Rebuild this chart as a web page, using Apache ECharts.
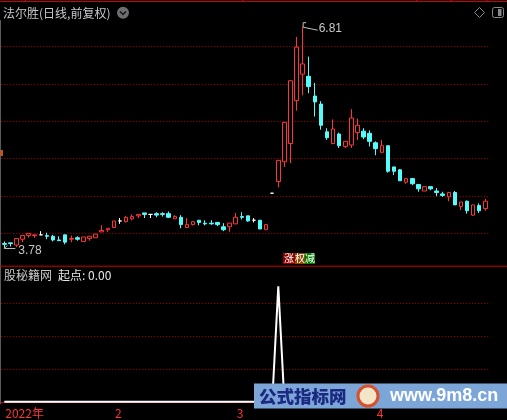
<!DOCTYPE html>
<html>
<head>
<meta charset="utf-8">
<title>法尔胜 日线</title>
<script src="https://cdn.jsdelivr.net/npm/echarts@6/dist/echarts.min.js"></script>
<style>
  html, body { margin: 0; padding: 0; background: #000; }
  #main { width: 507px; height: 420px; }
</style>
</head>
<body>
<div id="main"></div>
<script>
// 日K (开, 收, 低, 高)
const opens = [3.84, 3.85, 3.82, 3.90, 3.95, 3.95, 3.96, 3.95, 3.94, 3.89,
  3.96, 3.90, 3.92, 3.87, 3.91, 3.92, 4.00, 4.03, 4.06, 4.15,
  4.14, 4.18, 4.22, 4.26, 4.24, 4.25, 4.25, 4.25, 4.18, 4.20,
  4.06, 4.10, 4.16, 4.12, 4.12, 4.13, 4.07, 4.07, 4.11, 4.21,
  4.22, 4.16, 4.16, 4.03, 4.53, 4.69, 4.96, 5.21, 5.80, 6.16,
  6.13, 5.86, 5.75, 5.37, 5.21, 5.34, 5.17, 5.19, 5.36, 5.38,
  5.35, 5.22, 5.09, 5.18, 4.89, 4.85, 4.68, 4.73, 4.65, 4.56,
  4.62, 4.56, 4.52, 4.48, 4.54, 4.35, 4.42, 4.23, 4.36, 4.32];
const closes = [3.83, 3.84, 3.91, 3.95, 3.98, 3.96, 3.96, 3.94, 3.89, 3.88,
  3.86, 3.91, 3.90, 3.93, 3.94, 3.97, 4.02, 4.05, 4.15, 4.15,
  4.20, 4.21, 4.24, 4.24, 4.24, 4.23, 4.24, 4.20, 4.21, 4.10,
  4.10, 4.14, 4.13, 4.11, 4.11, 4.10, 4.03, 4.12, 4.20, 4.20,
  4.15, 4.16, 4.04, 4.10, 4.53, 4.98, 5.50, 6.07, 6.53, 6.30,
  5.99, 5.78, 5.46, 5.29, 5.41, 5.18, 5.24, 5.56, 5.46, 5.30,
  5.24, 5.14, 5.18, 4.83, 4.83, 4.70, 4.73, 4.66, 4.59, 4.62,
  4.59, 4.54, 4.50, 4.54, 4.37, 4.41, 4.29, 4.37, 4.29, 4.42];
const lows = [3.78, 3.80, 3.79, 3.86, 3.92, 3.92, 3.96, 3.90, 3.87, 3.88,
  3.83, 3.86, 3.88, 3.87, 3.88, 3.92, 4.00, 4.00, 4.06, 4.11,
  4.13, 4.16, 4.19, 4.19, 4.19, 4.20, 4.21, 4.19, 4.18, 4.05,
  4.06, 4.09, 4.09, 4.09, 4.10, 4.08, 4.01, 4.00, 4.11, 4.17,
  4.14, 4.13, 4.04, 4.03, 4.53, 4.61, 4.89, 4.94, 5.66, 5.87,
  5.90, 5.58, 5.40, 5.26, 5.20, 5.15, 5.15, 5.15, 5.26, 5.27,
  5.17, 5.05, 5.08, 4.81, 4.78, 4.70, 4.66, 4.64, 4.55, 4.56,
  4.57, 4.49, 4.48, 4.42, 4.37, 4.30, 4.25, 4.22, 4.26, 4.29];
const highs = [3.87, 3.85, 3.91, 3.95, 3.98, 3.96, 4.01, 3.99, 3.96, 3.94,
  3.96, 3.95, 3.94, 3.93, 3.94, 3.97, 4.09, 4.05, 4.15, 4.19,
  4.22, 4.24, 4.24, 4.26, 4.24, 4.27, 4.27, 4.28, 4.23, 4.23,
  4.19, 4.15, 4.16, 4.16, 4.16, 4.13, 4.12, 4.12, 4.26, 4.27,
  4.22, 4.19, 4.16, 4.10, 4.53, 4.98, 5.50, 6.07, 6.67, 6.81,
  6.40, 6.04, 5.79, 5.42, 5.54, 5.36, 5.24, 5.68, 5.55, 5.42,
  5.39, 5.24, 5.26, 5.18, 4.89, 4.86, 4.73, 4.74, 4.65, 4.62,
  4.62, 4.60, 4.55, 4.54, 4.56, 4.41, 4.43, 4.37, 4.39, 4.45];

// 起点 指标
const signal = [0, 0, 0, 0, 0, 0, 0, 0, 0, 0,
  0, 0, 0, 0, 0, 0, 0, 0, 0, 0,
  0, 0, 0, 0, 0, 0, 0, 0, 0, 0,
  0, 0, 0, 0, 0, 0, 0, 0, 0, 0,
  0, 0, 0, 0, 0, 3.5, 0, 0, 0, 0,
  0, 0, 0, 0, 0, 0, 0, 0, 0, 0,
  0, 0, 0, 0, 0, 0, 0, 0, 0, 0,
  0, 0, 0, 0, 0, 0, 0, 0, 0, 0];

// 月份刻度
const monthIdx = [0, 18, 38, 61];
const monthLabels = ['2022年', '2', '3', '4'];
const weekIdx = [23, 28, 33, 43, 48, 53, 58, 66, 71, 76];

const highIdx = 49, lowIdx = 0;

const RED = '#ff3434';
const CYAN = '#54fcfc';
const LINE_RED = '#d00000';
const CJK = '"Noto Sans CJK SC", sans-serif';

const days = opens.map((_, i) => String(i + 1));
const kData = opens.map((o, i) => {
  const v = [o, closes[i], lows[i], highs[i]];
  if (o === closes[i]) {
    return { value: v, itemStyle: { color: '#fff', borderColor: '#fff', color0: '#fff', borderColor0: '#fff' } };
  }
  return v;
});

const myChart = echarts.init(document.getElementById('main'));

const dotted = { color: '#b00000', width: 1, type: [1, 2] };

const option = {
  backgroundColor: '#000',
  animation: false,
  grid: [
    { left: 1.26, right: 18.64, top: 46.7, bottom: 186.7 },
    { left: 1.26, right: 18.64, top: 302.8, bottom: 18.2 }
  ],
  xAxis: [
    { gridIndex: 0, type: 'category', data: days, boundaryGap: true, show: false },
    {
      gridIndex: 1, type: 'category', data: days, boundaryGap: true, offset: 2.7,
      axisLine: { lineStyle: { color: LINE_RED, width: 1 } },
      axisTick: {
        alignWithLabel: true, length: 16,
        interval: (i) => i > 0 && monthIdx.includes(i),
        lineStyle: { color: LINE_RED }
      },
      axisLabel: {
        interval: (i) => monthIdx.includes(i),
        formatter: (v, i) => monthLabels[monthIdx.indexOf(i)] || '',
        align: 'left', verticalAlign: 'top', margin: 3,
        color: RED, fontSize: 12, fontFamily: CJK, padding: [0, 0, 0, 1]
      },
      splitLine: { show: false }
    },
    {
      gridIndex: 1, type: 'category', data: days, boundaryGap: true, offset: 2.7,
      axisLine: { show: false },
      axisLabel: { show: false },
      axisTick: {
        alignWithLabel: true, length: 3,
        interval: (i) => weekIdx.includes(i),
        lineStyle: { color: LINE_RED }
      },
      splitLine: { show: false }
    }
  ],
  yAxis: [
    {
      gridIndex: 0, type: 'value', min: 3.981, max: 6.536, interval: 0.511, scale: true,
      axisLine: { show: false }, axisTick: { show: false }, axisLabel: { show: false },
      splitLine: { lineStyle: dotted }
    },
    {
      gridIndex: 1, type: 'value', min: 0, max: 3, interval: 1,
      axisLine: { show: false }, axisTick: { show: false }, axisLabel: { show: false },
      splitLine: { lineStyle: dotted }
    }
  ],
  series: [
    {
      name: '日K', type: 'candlestick', xAxisIndex: 0, yAxisIndex: 0,
      data: kData, barWidth: 4, clip: false,
      itemStyle: {
        color: '#000', color0: CYAN,
        borderColor: RED, borderColor0: CYAN,
        borderColorDoji: '#fff', borderWidth: 1
      }
    },
    {
      name: '起点', type: 'line', xAxisIndex: 1, yAxisIndex: 1,
      data: signal, showSymbol: false, clip: false, silent: true,
      lineStyle: { color: '#fff', width: 2 }
    }
  ]
};
myChart.setOption(option);

function txt(x, y, text, fill, font, align) {
  return {
    type: 'text', silent: true, z: 100,
    style: { x, y, text, fill, font, align: align || 'left', textAlign: align || 'left', verticalAlign: 'middle', textVerticalAlign: 'middle' }
  };
}
function line(x1, y1, x2, y2, stroke, w) {
  return { type: 'line', silent: true, z: 100, shape: { x1, y1, x2, y2 }, style: { stroke, lineWidth: w || 1 } };
}
function box(x, y, width, height, style, r) {
  return { type: 'rect', silent: true, z: 100, shape: { x, y, width, height, r: r || 0 }, style };
}

// 最高/最低价标注
const hp = myChart.convertToPixel({ gridIndex: 0 }, [highIdx, highs[highIdx]]);
const lp = myChart.convertToPixel({ gridIndex: 0 }, [lowIdx, lows[lowIdx]]);

const g = [
  line(0, 1.5, 507, 1.5, LINE_RED),
  line(25.5, 0, 25.5, 1.5, LINE_RED), line(242.5, 0, 242.5, 1.5, LINE_RED),
  line(416.5, 0, 416.5, 1.5, LINE_RED), line(451.5, 0, 451.5, 1.5, LINE_RED),
  line(486.5, 0, 486.5, 1.5, LINE_RED),
  line(0.5, 20, 0.5, 404, '#5a5a5a'),
  box(0, 150, 3, 6, { fill: '#b05a28' }),
  txt(3, 13, '法尔胜(日线,前复权)', '#c8c8c8', '12px ' + CJK),
  { type: 'circle', silent: true, z: 100, shape: { cx: 123, cy: 12.7, r: 6 }, style: { fill: '#6e6e6e' } },
  { type: 'polyline', silent: true, z: 101, shape: { points: [[120, 11.5], [123, 14.5], [126, 11.5]] }, style: { stroke: '#151515', lineWidth: 1.5, fill: null } },
  { type: 'polygon', silent: true, z: 100, shape: { points: [[479.5, 7.5], [484.5, 12.5], [479.5, 17.5], [474.5, 12.5]] }, style: { stroke: '#8a8a8a', fill: null, lineWidth: 1 } },
  box(492.5, 7.5, 11, 10, { stroke: '#8a8a8a', fill: null, lineWidth: 1 }, 2),
  box(498, 9, 3.5, 7, { fill: '#8a8a8a' }),
  // 高点
  line(hp[0] + 0.5, hp[1] + 0.5, hp[0] + 15, hp[1] + 3.5, '#c0c0c0'),
  line(hp[0] + 0.5, hp[1] + 0.5, hp[0] + 0.5, hp[1] - 4, '#c0c0c0'),
  line(hp[0] + 0.5, hp[1] - 4, hp[0] + 3.5, hp[1] - 4, '#c0c0c0'),
  txt(hp[0] + 16, hp[1] + 2, highs[highIdx].toFixed(2), '#c8c8c8', '12px "Liberation Sans", sans-serif'),
  // 低点
  line(lp[0], lp[1] + 0.5, lp[0] + 11, lp[1] + 0.5, '#c0c0c0'),
  line(lp[0], lp[1] + 0.5, lp[0] + 3, lp[1] - 2.5, '#c0c0c0'),
  txt(lp[0] + 14, lp[1] + 2.5, lows[lowIdx].toFixed(2), '#c8c8c8', '12px "Liberation Sans", sans-serif'),
  // 信息地雷
  box(283, 253, 12, 11, { fill: '#8c0000' }),
  box(295, 253, 10, 11, { fill: '#8c4a00' }),
  box(305, 253, 10, 11, { fill: '#008000' }),
  txt(289, 258.5, '涨', '#fff', '10px ' + CJK, 'center'),
  txt(300, 258.5, '权', '#fff', '10px ' + CJK, 'center'),
  txt(310, 258.5, '减', '#fff', '10px ' + CJK, 'center'),
  line(0, 266.2, 507, 266.2, LINE_RED),
  txt(4, 275.5, '股秘籍网', '#c8c8c8', '12px ' + CJK),
  txt(58, 275.5, '起点: 0.00', '#e8e8e8', '12px ' + CJK),
  // 水印
  box(254, 383.5, 253, 25, { fill: '#7ca5d8' }),
  txt(259, 396, '公式指标网', '#1b2a80', '900 17.5px ' + CJK),
  { type: 'circle', silent: true, z: 101, shape: { cx: 368, cy: 396, r: 10 }, style: { fill: '#f3e6c8', stroke: '#d8502c', lineWidth: 3 } },
  box(364, 389, 8, 13, { fill: '#e0a020' }),
  txt(390, 396, 'www.9m8.cn', '#ffffff', 'bold 18px "Liberation Sans", sans-serif')
];

myChart.setOption({ graphic: { elements: g } });

window.addEventListener('resize', function () {
  myChart.resize();
});
</script>
</body>
</html>
